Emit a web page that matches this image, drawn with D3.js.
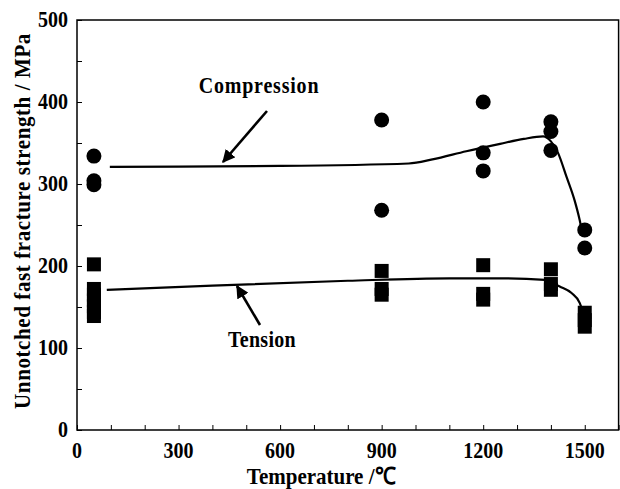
<!DOCTYPE html>
<html>
<head>
<meta charset="utf-8">
<script src="https://cdn.jsdelivr.net/npm/d3@7"></script>
<style>
  html, body { margin: 0; padding: 0; background: #fff; }
  text { font-family: "Liberation Serif", "Times New Roman", serif; font-weight: bold; fill: #000; }
</style>
</head>
<body>
<svg id="chart" width="620" height="489"></svg>
<script>
// ---- data ----
const compTemps  = [50, 50, 50, 900, 900, 1200, 1200, 1200, 1400, 1400, 1400, 1500, 1500];
const compValues = [334, 304, 299, 378, 268, 400, 338, 316, 376, 364, 341, 244, 222];
const tensTemps  = [50, 50, 50, 50, 50, 50, 50, 900, 900, 900, 1200, 1200, 1200, 1400, 1400, 1400, 1500, 1500, 1500];
const tensValues = [202, 172, 165, 158, 151, 144, 139, 194, 172, 165, 201, 166, 159, 196, 178, 171, 143, 134, 126];
const compCurveT = [97, 600, 980, 1050, 1150, 1250, 1320, 1377, 1400, 1421, 1446, 1470, 1485, 1491];
const compCurveV = [321, 322, 325, 330, 340, 349, 355, 358, 352, 338, 309, 280, 256, 244];
const tensCurveT = [88, 400, 800, 1100, 1249, 1382, 1426, 1461, 1485, 1493];
const tensCurveV = [171, 176, 182, 185, 185, 183, 175, 167, 155, 146];
const xTickLabels = [0, 300, 600, 900, 1200, 1500];
const yTickLabels = [0, 100, 200, 300, 400, 500];
const xLabel = "Temperature /℃";
const yLabel = "Unnotched fast fracture strength / MPa";

// ---- layout ----
const svg = d3.select("#chart");
const L = 77, R = 618.6, T = 20, B = 430;
const x = d3.scaleLinear().domain([0, 1600]).range([L, R]);
const y = d3.scaleLinear().domain([0, 500]).range([B, T]);
const FS = 20, SY = 1.13;

function label(txt, px, py, anchor, rot, fs) {
  const g = svg.append("g").attr("transform", `translate(${px},${py}) rotate(${rot||0}) scale(1,${SY})`);
  return g.append("text").attr("text-anchor", anchor).attr("font-size", fs || FS).text(txt);
}

// frame
svg.append("rect").attr("x", L).attr("y", T).attr("width", R - L).attr("height", B - T)
  .attr("fill", "none").attr("stroke", "#000").attr("stroke-width", 1.5);

// ticks
const xAxis = d3.axisBottom(x).tickValues(d3.range(0, 1601, 100)).tickSize(-5).tickFormat("");
svg.append("g").attr("transform", `translate(0,${B})`).call(xAxis)
  .call(g => g.select(".domain").remove())
  .selectAll("line").attr("stroke", "#000").attr("stroke-width", 1);
const yAxis = d3.axisLeft(y).tickValues(d3.range(0, 501, 50)).tickSize(-5).tickFormat("");
svg.append("g").attr("transform", `translate(${L},0)`).call(yAxis)
  .call(g => g.select(".domain").remove())
  .selectAll("line").attr("stroke", "#000").attr("stroke-width", 1);

// tick labels
xTickLabels.forEach(v => label(String(v), x(v), B + 28, "middle"));
yTickLabels.forEach(v => label(String(v), L - 9, y(v) + 7, "end"));

// axis titles
label(xLabel, 321, 484, "middle", 0, 21);
label(yLabel, 30, 221, "middle", -90, 21).attr("letter-spacing", 0.6);

// curves
const line = d3.line().x(d => x(d[0])).y(d => y(d[1])).curve(d3.curveMonotoneX);
svg.append("path").datum(compCurveT.map((t, i) => [t, compCurveV[i]]))
  .attr("d", line).attr("fill", "none").attr("stroke", "#000").attr("stroke-width", 2.2);
svg.append("path").datum(tensCurveT.map((t, i) => [t, tensCurveV[i]]))
  .attr("d", line).attr("fill", "none").attr("stroke", "#000").attr("stroke-width", 2.2);

// points
svg.selectAll("circle.c").data(compTemps.map((t, i) => [t, compValues[i]])).join("circle")
  .attr("cx", d => x(d[0])).attr("cy", d => y(d[1])).attr("r", 7.5).attr("fill", "#000");
const S = 14;
svg.selectAll("rect.s").data(tensTemps.map((t, i) => [t, tensValues[i]])).join("rect")
  .attr("x", d => x(d[0]) - S / 2).attr("y", d => y(d[1]) - S / 2)
  .attr("width", S).attr("height", S).attr("fill", "#000");

// annotations
svg.append("defs").append("marker").attr("id", "ah").attr("viewBox", "0 0 10 10")
  .attr("refX", 9).attr("refY", 5).attr("markerWidth", 5).attr("markerHeight", 5)
  .attr("orient", "auto").attr("markerUnits", "strokeWidth")
  .append("path").attr("d", "M0,0 L10,5 L0,10 z").attr("fill", "#000");
svg.append("line").attr("x1", 267).attr("y1", 111).attr("x2", 223).attr("y2", 162)
  .attr("stroke", "#000").attr("stroke-width", 2.6).attr("marker-end", "url(#ah)");
svg.append("line").attr("x1", 260).attr("y1", 325).attr("x2", 237).attr("y2", 286)
  .attr("stroke", "#000").attr("stroke-width", 2.6).attr("marker-end", "url(#ah)");
label("Compression", 259, 93, "middle").attr("letter-spacing", 0.8);
label("Tension", 262, 347, "middle").attr("letter-spacing", 0.3);
</script>
</body>
</html>
